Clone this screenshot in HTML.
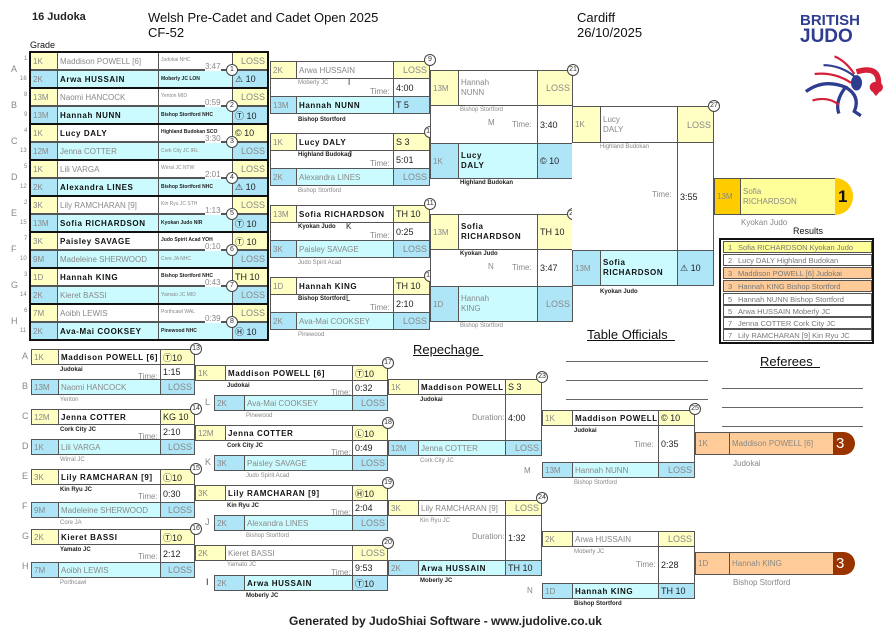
<!DOCTYPE html>
<html><head><meta charset="utf-8"><style>
body{margin:0;width:891px;height:630px;background:#fff;position:relative;overflow:hidden;font-family:"Liberation Sans","DejaVu Sans",sans-serif}
div,span{position:absolute;box-sizing:border-box;white-space:nowrap}
.c{border:1px solid #555;font-size:8px;color:#888;padding:0 2px;display:flex;align-items:center;overflow:hidden}
.y{background:#ffffc4}.b{background:#aee6f7}.q{background:#ccfbff}.w{background:#fff}
.k{color:#111;font-weight:bold;letter-spacing:.6px}
.r{justify-content:flex-end;font-size:9px}
.s{color:#222;font-size:9px}
.t{font-size:8px;color:#888}
.tk{font-size:6px;color:#222;font-weight:bold}
.tn{font-size:4.5px;color:#888}
.m{border:2px solid #111}
.n{width:12px;height:12px;border:1px solid #444;border-radius:50%;background:#fff;font-size:7px;color:#333;text-align:center;line-height:10px}
.L{font-size:9px;color:#888}
.line{height:1px;background:#666}
</style></head><body>
<!-- header -->
<div style="left:32px;top:11px;font-size:11px;font-weight:bold;color:#222">16 Judoka</div>
<div style="left:148px;top:10px;font-size:13px;color:#111">Welsh Pre-Cadet and Cadet Open 2025</div>
<div style="left:148px;top:25px;font-size:13px;color:#111">CF-52</div>
<div style="left:577px;top:10px;font-size:13px;color:#111">Cardiff</div>
<div style="left:577px;top:25px;font-size:13px;color:#111">26/10/2025</div>
<div style="left:30px;top:40px;font-size:9px;color:#111">Grade</div>
<div style="left:800px;top:12px;font-size:15px;font-weight:bold;color:#2e3d8f">BRITISH</div>
<div style="left:800px;top:26px;font-size:19px;font-weight:bold;color:#2e3d8f">JUDO</div>
<svg style="position:absolute;left:788px;top:52px" width="100" height="70" viewBox="0 0 95 70">
<g transform="scale(1.1)">
<path d="M40 4 Q50 8 58 20" stroke="#d6203a" stroke-width="2" fill="none"/>
<path d="M30 12 Q45 12 58 22" stroke="#2e3d8f" stroke-width="2" fill="none"/>
<path d="M22 20 Q40 18 55 28" stroke="#d6203a" stroke-width="2" fill="none"/>
<path d="M60 18 Q80 12 80 28 Q80 35 76 38" stroke="#d6203a" stroke-width="5" fill="none"/>
<ellipse cx="78" cy="32" rx="6" ry="5" fill="#d6203a"/>
<ellipse cx="60" cy="28" rx="5" ry="7" fill="#2e3d8f"/>
<path d="M14 36 Q30 24 50 32 Q40 45 44 56 M50 32 Q64 40 58 54 L64 58" stroke="#2e3d8f" stroke-width="3" fill="none"/>
<path d="M20 44 Q34 40 44 48" stroke="#d6203a" stroke-width="2" fill="none"/>
</g>
</svg>

<!-- ROUND 1 -->
<div class="L" style="left:11px;top:64px">A</div><div class="L" style="left:11px;top:100px">B</div><div class="L" style="left:11px;top:136px">C</div><div class="L" style="left:11px;top:172px">D</div><div class="L" style="left:11px;top:208px">E</div><div class="L" style="left:11px;top:244px">F</div><div class="L" style="left:11px;top:280px">G</div><div class="L" style="left:11px;top:316px">H</div>
<div class="tn" style="left:24px;top:56px;font-size:6px">1</div><div class="tn" style="left:20px;top:76px;font-size:6px">16</div>
<div class="tn" style="left:24px;top:92px;font-size:6px">8</div><div class="tn" style="left:24px;top:112px;font-size:6px">9</div>
<div class="tn" style="left:24px;top:128px;font-size:6px">4</div><div class="tn" style="left:20px;top:148px;font-size:6px">13</div>
<div class="tn" style="left:24px;top:164px;font-size:6px">5</div><div class="tn" style="left:20px;top:184px;font-size:6px">12</div>
<div class="tn" style="left:24px;top:200px;font-size:6px">2</div><div class="tn" style="left:20px;top:220px;font-size:6px">15</div>
<div class="tn" style="left:24px;top:236px;font-size:6px">7</div><div class="tn" style="left:20px;top:256px;font-size:6px">10</div>
<div class="tn" style="left:24px;top:272px;font-size:6px">3</div><div class="tn" style="left:20px;top:292px;font-size:6px">14</div>
<div class="tn" style="left:24px;top:308px;font-size:6px">6</div><div class="tn" style="left:20px;top:328px;font-size:6px">11</div>

<!-- A -->
<div class="c y" style="left:30px;top:52px;width:28px;height:18px">1K</div><div class="c w" style="left:57px;top:52px;width:102px;height:18px">Maddison POWELL [6]</div><div class="c w" style="left:158px;top:52px;width:75px;height:18px;font-size:5px;align-items:flex-start;padding-top:4px">Judokai NHC</div><div class="c y r" style="left:232px;top:52px;width:36px;height:18px">LOSS</div>
<div class="c b" style="left:30px;top:70px;width:28px;height:18px">2K</div><div class="c q k" style="left:57px;top:70px;width:102px;height:18px">Arwa HUSSAIN</div><div class="c q tk" style="left:158px;top:70px;width:75px;height:18px;font-size:5px">Moberly JC LON</div><div class="c b s" style="left:232px;top:70px;width:36px;height:18px">⚠ 10</div>
<!-- B -->
<div class="c y" style="left:30px;top:88px;width:28px;height:18px">13M</div><div class="c w" style="left:57px;top:88px;width:102px;height:18px">Naomi HANCOCK</div><div class="c w" style="left:158px;top:88px;width:75px;height:18px;font-size:5px;align-items:flex-start;padding-top:4px">Yenton MID</div><div class="c y r" style="left:232px;top:88px;width:36px;height:18px">LOSS</div>
<div class="c b" style="left:30px;top:106px;width:28px;height:18px">13M</div><div class="c q k" style="left:57px;top:106px;width:102px;height:18px">Hannah NUNN</div><div class="c q tk" style="left:158px;top:106px;width:75px;height:18px;font-size:5px">Bishop Stortford NHC</div><div class="c b s" style="left:232px;top:106px;width:36px;height:18px">Ⓣ 10</div>
<!-- C -->
<div class="c y" style="left:30px;top:124px;width:28px;height:18px">1K</div><div class="c w k" style="left:57px;top:124px;width:102px;height:18px">Lucy DALY</div><div class="c w tk" style="left:158px;top:124px;width:75px;height:18px;font-size:5px;align-items:flex-start;padding-top:4px">Highland Budokan SCO</div><div class="c y s" style="left:232px;top:124px;width:36px;height:18px">© 10</div>
<div class="c b" style="left:30px;top:142px;width:28px;height:18px">12M</div><div class="c q" style="left:57px;top:142px;width:102px;height:18px">Jenna COTTER</div><div class="c q" style="left:158px;top:142px;width:75px;height:18px;font-size:5px">Cork City JC IRL</div><div class="c b r" style="left:232px;top:142px;width:36px;height:18px">LOSS</div>
<!-- D -->
<div class="c y" style="left:30px;top:160px;width:28px;height:18px">1K</div><div class="c w" style="left:57px;top:160px;width:102px;height:18px">Lili VARGA</div><div class="c w" style="left:158px;top:160px;width:75px;height:18px;font-size:5px;align-items:flex-start;padding-top:4px">Wirral JC NTW</div><div class="c y r" style="left:232px;top:160px;width:36px;height:18px">LOSS</div>
<div class="c b" style="left:30px;top:178px;width:28px;height:18px">2K</div><div class="c q k" style="left:57px;top:178px;width:102px;height:18px">Alexandra LINES</div><div class="c q tk" style="left:158px;top:178px;width:75px;height:18px;font-size:5px">Bishop Stortford NHC</div><div class="c b s" style="left:232px;top:178px;width:36px;height:18px">⚠ 10</div>
<!-- E -->
<div class="c y" style="left:30px;top:196px;width:28px;height:18px">3K</div><div class="c w" style="left:57px;top:196px;width:102px;height:18px">Lily RAMCHARAN [9]</div><div class="c w" style="left:158px;top:196px;width:75px;height:18px;font-size:5px;align-items:flex-start;padding-top:4px">Kin Ryu JC STH</div><div class="c y r" style="left:232px;top:196px;width:36px;height:18px">LOSS</div>
<div class="c b" style="left:30px;top:214px;width:28px;height:18px">13M</div><div class="c q k" style="left:57px;top:214px;width:102px;height:18px">Sofia RICHARDSON</div><div class="c q tk" style="left:158px;top:214px;width:75px;height:18px;font-size:5px">Kyokan Judo NIR</div><div class="c b s" style="left:232px;top:214px;width:36px;height:18px">Ⓣ 10</div>
<!-- F -->
<div class="c y" style="left:30px;top:232px;width:28px;height:18px">3K</div><div class="c w k" style="left:57px;top:232px;width:102px;height:18px">Paisley SAVAGE</div><div class="c w tk" style="left:158px;top:232px;width:75px;height:18px;font-size:5px;align-items:flex-start;padding-top:4px">Judo Spirit Acad YOH</div><div class="c y s" style="left:232px;top:232px;width:36px;height:18px">Ⓣ 10</div>
<div class="c b" style="left:30px;top:250px;width:28px;height:18px">9M</div><div class="c q" style="left:57px;top:250px;width:102px;height:18px">Madeleine SHERWOOD</div><div class="c q" style="left:158px;top:250px;width:75px;height:18px;font-size:5px">Core JA NHC</div><div class="c b r" style="left:232px;top:250px;width:36px;height:18px">LOSS</div>
<!-- G -->
<div class="c y" style="left:30px;top:268px;width:28px;height:18px">1D</div><div class="c w k" style="left:57px;top:268px;width:102px;height:18px">Hannah KING</div><div class="c w tk" style="left:158px;top:268px;width:75px;height:18px;font-size:5px;align-items:flex-start;padding-top:4px">Bishop Stortford NHC</div><div class="c y s" style="left:232px;top:268px;width:36px;height:18px">TH 10</div>
<div class="c b" style="left:30px;top:286px;width:28px;height:18px">2K</div><div class="c q" style="left:57px;top:286px;width:102px;height:18px">Kieret BASSI</div><div class="c q" style="left:158px;top:286px;width:75px;height:18px;font-size:5px">Yamato JC MID</div><div class="c b r" style="left:232px;top:286px;width:36px;height:18px">LOSS</div>
<!-- H -->
<div class="c y" style="left:30px;top:304px;width:28px;height:18px">7M</div><div class="c w" style="left:57px;top:304px;width:102px;height:18px">Aoibh LEWIS</div><div class="c w" style="left:158px;top:304px;width:75px;height:18px;font-size:5px;align-items:flex-start;padding-top:4px">Porthcawl WAL</div><div class="c y r" style="left:232px;top:304px;width:36px;height:18px">LOSS</div>
<div class="c b" style="left:30px;top:322px;width:28px;height:18px">2K</div><div class="c q k" style="left:57px;top:322px;width:102px;height:18px">Ava-Mai COOKSEY</div><div class="c q tk" style="left:158px;top:322px;width:75px;height:18px;font-size:5px">Pinewood NHC</div><div class="c b s" style="left:232px;top:322px;width:36px;height:18px">Ⓗ 10</div>
<!-- thick match borders -->
<div class="m" style="left:29px;top:51px;width:240px;height:38px"></div><div class="m" style="left:29px;top:87px;width:240px;height:38px"></div><div class="m" style="left:29px;top:123px;width:240px;height:38px"></div><div class="m" style="left:29px;top:159px;width:240px;height:38px"></div><div class="m" style="left:29px;top:195px;width:240px;height:38px"></div><div class="m" style="left:29px;top:231px;width:240px;height:38px"></div><div class="m" style="left:29px;top:267px;width:240px;height:38px"></div><div class="m" style="left:29px;top:303px;width:240px;height:38px"></div>
<!-- times & numbers -->
<div class="t" style="left:205px;top:62px;background:#fff">3:47</div><div class="n" style="left:226px;top:64px">1</div>
<div class="t" style="left:205px;top:98px;background:#fff">0:59</div><div class="n" style="left:226px;top:100px">2</div>
<div class="t" style="left:205px;top:134px;background:#fff">3:30</div><div class="n" style="left:226px;top:136px">3</div>
<div class="t" style="left:205px;top:170px;background:#fff">2:01</div><div class="n" style="left:226px;top:172px">4</div>
<div class="t" style="left:205px;top:206px;background:#fff">1:13</div><div class="n" style="left:226px;top:208px">5</div>
<div class="t" style="left:205px;top:242px;background:#fff">0:10</div><div class="n" style="left:226px;top:244px">6</div>
<div class="t" style="left:205px;top:278px;background:#fff">0:43</div><div class="n" style="left:226px;top:280px">7</div>
<div class="t" style="left:205px;top:314px;background:#fff">0:39</div><div class="n" style="left:226px;top:316px">8</div>

<!-- ROUND 2 -->
<!-- 9 -->
<div class="c y" style="left:270px;top:61px;width:27px;height:18px">2K</div><div class="c w" style="left:296px;top:61px;width:98px;height:18px">Arwa HUSSAIN</div><div class="c y r" style="left:393px;top:61px;width:37px;height:18px">LOSS</div>
<div class="c w" style="left:270px;top:78px;width:124px;height:19px;border-right:none"></div><div class="t" style="left:298px;top:80px;font-size:6px">Moberly JC</div><div class="t" style="left:348px;top:78px;color:#222">I</div><div class="t" style="left:370px;top:87px">Time:</div><div class="c w s" style="left:393px;top:78px;width:37px;height:19px">4:00</div>
<div class="c b" style="left:270px;top:96px;width:27px;height:18px">13M</div><div class="c q k" style="left:296px;top:96px;width:98px;height:18px">Hannah NUNN</div><div class="c b s" style="left:393px;top:96px;width:37px;height:18px">T 5</div>
<div class="tk" style="left:298px;top:117px">Bishop Stortford</div><div class="n" style="left:424px;top:54px">9</div>
<!-- 10 -->
<div class="c y" style="left:270px;top:133px;width:27px;height:18px">1K</div><div class="c w k" style="left:296px;top:133px;width:98px;height:18px">Lucy DALY</div><div class="c y s" style="left:393px;top:133px;width:37px;height:18px">S 3</div>
<div class="c w" style="left:270px;top:150px;width:124px;height:19px;border-right:none"></div><div class="tk" style="left:298px;top:152px">Highland Budokan</div><div class="t" style="left:348px;top:150px;color:#222">J</div><div class="t" style="left:370px;top:159px">Time:</div><div class="c w s" style="left:393px;top:150px;width:37px;height:19px">5:01</div>
<div class="c b" style="left:270px;top:168px;width:27px;height:18px">2K</div><div class="c q" style="left:296px;top:168px;width:98px;height:18px">Alexandra LINES</div><div class="c b r" style="left:393px;top:168px;width:37px;height:18px">LOSS</div>
<div class="t" style="left:298px;top:188px;font-size:6px">Bishop Stortford</div><div class="n" style="left:424px;top:126px">10</div>
<!-- 11 -->
<div class="c y" style="left:270px;top:205px;width:27px;height:18px">13M</div><div class="c w k" style="left:296px;top:205px;width:98px;height:18px">Sofia RICHARDSON</div><div class="c y s" style="left:393px;top:205px;width:37px;height:18px">TH 10</div>
<div class="c w" style="left:270px;top:222px;width:124px;height:19px;border-right:none"></div><div class="tk" style="left:298px;top:224px">Kyokan Judo</div><div class="t" style="left:346px;top:222px;color:#222">K</div><div class="t" style="left:370px;top:231px">Time:</div><div class="c w s" style="left:393px;top:222px;width:37px;height:19px">0:25</div>
<div class="c b" style="left:270px;top:240px;width:27px;height:18px">3K</div><div class="c q" style="left:296px;top:240px;width:98px;height:18px">Paisley SAVAGE</div><div class="c b r" style="left:393px;top:240px;width:37px;height:18px">LOSS</div>
<div class="t" style="left:298px;top:260px;font-size:6px">Judo Spirit Acad</div><div class="n" style="left:424px;top:198px">11</div>
<!-- 12 -->
<div class="c y" style="left:270px;top:277px;width:27px;height:18px">1D</div><div class="c w k" style="left:296px;top:277px;width:98px;height:18px">Hannah KING</div><div class="c y s" style="left:393px;top:277px;width:37px;height:18px">TH 10</div>
<div class="c w" style="left:270px;top:294px;width:124px;height:19px;border-right:none"></div><div class="tk" style="left:298px;top:296px">Bishop Stortford</div><div class="t" style="left:346px;top:294px;color:#222">L</div><div class="t" style="left:370px;top:303px">Time:</div><div class="c w s" style="left:393px;top:294px;width:37px;height:19px">2:10</div>
<div class="c b" style="left:270px;top:312px;width:27px;height:18px">2K</div><div class="c q" style="left:296px;top:312px;width:98px;height:18px">Ava-Mai COOKSEY</div><div class="c b r" style="left:393px;top:312px;width:37px;height:18px">LOSS</div>
<div class="t" style="left:298px;top:332px;font-size:6px">Pinewood</div><div class="n" style="left:424px;top:270px">12</div>

<!-- ROUND 3 -->
<div class="c y" style="left:430px;top:70px;width:29px;height:36px">13M</div><div class="c w" style="left:458px;top:70px;width:80px;height:36px;white-space:normal;line-height:10px">Hannah<br>NUNN</div><div class="c y r" style="left:537px;top:70px;width:36px;height:36px">LOSS</div>
<div class="c w" style="left:430px;top:105px;width:108px;height:39px;border-right:none"></div><div class="t" style="left:460px;top:107px;font-size:6px">Bishop Stortford</div><div class="t" style="left:488px;top:118px">M</div><div class="t" style="left:512px;top:120px">Time:</div><div class="c w s" style="left:537px;top:105px;width:36px;height:39px">3:40</div>
<div class="c b" style="left:430px;top:143px;width:29px;height:36px">1K</div><div class="c q k" style="left:458px;top:143px;width:80px;height:36px;white-space:normal;line-height:10px">Lucy<br>DALY</div><div class="c b s" style="left:537px;top:143px;width:36px;height:36px">© 10</div>
<div class="tk" style="left:460px;top:180px">Highland Budokan</div><div class="n" style="left:567px;top:64px">21</div>

<div class="c y" style="left:430px;top:214px;width:29px;height:36px">13M</div><div class="c w k" style="left:458px;top:214px;width:80px;height:36px;white-space:normal;line-height:10px">Sofia<br>RICHARDSON</div><div class="c y s" style="left:537px;top:214px;width:36px;height:36px">TH 10</div>
<div class="c w" style="left:430px;top:249px;width:108px;height:38px;border-right:none"></div><div class="tk" style="left:460px;top:251px">Kyokan Judo</div><div class="t" style="left:488px;top:262px">N</div><div class="t" style="left:512px;top:263px">Time:</div><div class="c w s" style="left:537px;top:249px;width:36px;height:38px">3:47</div>
<div class="c b" style="left:430px;top:286px;width:29px;height:36px">1D</div><div class="c q" style="left:458px;top:286px;width:80px;height:36px;white-space:normal;line-height:10px">Hannah<br>KING</div><div class="c b r" style="left:537px;top:286px;width:36px;height:36px">LOSS</div>
<div class="t" style="left:460px;top:323px;font-size:6px">Bishop Stortford</div><div class="n" style="left:567px;top:208px">22</div>

<!-- FINAL -->
<div class="c y" style="left:572px;top:106px;width:29px;height:37px">1K</div><div class="c w" style="left:600px;top:106px;width:78px;height:37px;white-space:normal;line-height:10px">Lucy<br>DALY</div><div class="c y r" style="left:677px;top:106px;width:37px;height:37px">LOSS</div>
<div class="c w" style="left:572px;top:142px;width:106px;height:109px;border-right:none;border-left:none"></div><div class="t" style="left:600px;top:144px;font-size:6px">Highland Budokan</div><div class="t" style="left:652px;top:190px">Time:</div><div class="c w s" style="left:677px;top:142px;width:37px;height:109px">3:55</div>
<div class="c b" style="left:572px;top:250px;width:29px;height:36px">13M</div><div class="c q k" style="left:600px;top:250px;width:78px;height:36px;white-space:normal;line-height:10px">Sofia<br>RICHARDSON</div><div class="c b s" style="left:677px;top:250px;width:37px;height:36px">⚠ 10</div>
<div class="tk" style="left:600px;top:289px">Kyokan Judo</div><div class="n" style="left:708px;top:100px">27</div>
<div class="c" style="left:714px;top:178px;width:27px;height:37px;background:#ffcc00">13M</div><div class="c" style="left:740px;top:178px;width:96px;height:37px;background:#ffff99;white-space:normal;line-height:10px">Sofia<br>RICHARDSON</div>
<div style="left:835px;top:178px;width:18px;height:37px;background:#ffcc00;border-radius:0 18px 18px 0;font-size:17px;font-weight:bold;line-height:37px;padding-left:3px;color:#111">1</div>
<div class="t" style="left:741px;top:218px">Kyokan Judo</div>

<!-- Results -->
<div style="left:793px;top:226px;font-size:9px;color:#111">Results</div>
<div style="left:719px;top:238px;width:155px;height:106px;border:2px solid #111;font-size:7.5px;color:#777">
<div style="left:2px;top:1px;width:149px;height:12px;background:#ffff99;border:1px solid #555"><span style="left:4px;top:1px">1</span><span style="left:14px;top:1px">Sofia RICHARDSON Kyokan Judo</span></div>
<div style="left:2px;top:14px;width:149px;height:12px;border:1px solid #555"><span style="left:4px;top:1px">2</span><span style="left:14px;top:1px">Lucy DALY Highland Budokan</span></div>
<div style="left:2px;top:27px;width:149px;height:12px;background:#ffcc99;border:1px solid #555"><span style="left:4px;top:1px">3</span><span style="left:14px;top:1px">Maddison POWELL [6] Judokai</span></div>
<div style="left:2px;top:40px;width:149px;height:12px;background:#ffcc99;border:1px solid #555"><span style="left:4px;top:1px">3</span><span style="left:14px;top:1px">Hannah KING Bishop Stortford</span></div>
<div style="left:2px;top:53px;width:149px;height:12px;border:1px solid #555"><span style="left:4px;top:1px">5</span><span style="left:14px;top:1px">Hannah NUNN Bishop Stortford</span></div>
<div style="left:2px;top:65px;width:149px;height:12px;border:1px solid #555"><span style="left:4px;top:1px">5</span><span style="left:14px;top:1px">Arwa HUSSAIN Moberly JC</span></div>
<div style="left:2px;top:77px;width:149px;height:12px;border:1px solid #555"><span style="left:4px;top:1px">7</span><span style="left:14px;top:1px">Jenna COTTER Cork City JC</span></div>
<div style="left:2px;top:89px;width:149px;height:12px;border:1px solid #555"><span style="left:4px;top:1px">7</span><span style="left:14px;top:1px">Lily RAMCHARAN [9] Kin Ryu JC</span></div>
</div>

<!-- officials -->
<div style="left:587px;top:327px;font-size:13px;color:#111;text-decoration:underline">Table Officials&nbsp;&nbsp;</div>
<div class="line" style="left:566px;top:361px;width:142px"></div><div class="line" style="left:566px;top:380px;width:142px"></div><div class="line" style="left:566px;top:399px;width:142px"></div>
<div style="left:760px;top:354px;font-size:13px;color:#111;text-decoration:underline">Referees&nbsp;&nbsp;</div>
<div class="line" style="left:722px;top:388px;width:141px"></div><div class="line" style="left:722px;top:407px;width:141px"></div><div class="line" style="left:722px;top:426px;width:141px"></div>
<div style="left:413px;top:342px;font-size:13px;color:#111;text-decoration:underline">Repechage&nbsp;</div>

<!-- REPECHAGE R1 -->
<div class="L" style="left:22px;top:351px">A</div><div class="L" style="left:22px;top:381px">B</div><div class="L" style="left:22px;top:411px">C</div><div class="L" style="left:22px;top:441px">D</div><div class="L" style="left:22px;top:471px">E</div><div class="L" style="left:22px;top:501px">F</div><div class="L" style="left:22px;top:531px">G</div><div class="L" style="left:22px;top:561px">H</div>
<!-- 13 -->
<div class="c y" style="left:31px;top:349px;width:28px;height:16px">1K</div><div class="c w k" style="left:58px;top:349px;width:103px;height:16px">Maddison POWELL [6]</div><div class="c y s" style="left:160px;top:349px;width:35px;height:16px">Ⓣ10</div>
<div class="tk" style="left:60px;top:367px">Judokai</div><div class="t" style="left:138px;top:372px">Time:</div><div class="c w s" style="left:160px;top:364px;width:35px;height:16px">1:15</div>
<div class="c b" style="left:31px;top:379px;width:28px;height:16px">13M</div><div class="c q" style="left:58px;top:379px;width:103px;height:16px">Naomi HANCOCK</div><div class="c b r" style="left:160px;top:379px;width:35px;height:16px">LOSS</div>
<div class="t" style="left:60px;top:397px;font-size:6px">Yenton</div><div class="n" style="left:190px;top:343px">13</div>
<!-- 14 -->
<div class="c y" style="left:31px;top:409px;width:28px;height:16px">12M</div><div class="c w k" style="left:58px;top:409px;width:103px;height:16px">Jenna COTTER</div><div class="c y s" style="left:160px;top:409px;width:35px;height:16px">KG 10</div>
<div class="tk" style="left:60px;top:427px">Cork City JC</div><div class="t" style="left:138px;top:432px">Time:</div><div class="c w s" style="left:160px;top:424px;width:35px;height:16px">2:10</div>
<div class="c b" style="left:31px;top:439px;width:28px;height:16px">1K</div><div class="c q" style="left:58px;top:439px;width:103px;height:16px">Lili VARGA</div><div class="c b r" style="left:160px;top:439px;width:35px;height:16px">LOSS</div>
<div class="t" style="left:60px;top:457px;font-size:6px">Wirral JC</div><div class="n" style="left:190px;top:403px">14</div>
<!-- 15 -->
<div class="c y" style="left:31px;top:469px;width:28px;height:16px">3K</div><div class="c w k" style="left:58px;top:469px;width:103px;height:16px">Lily RAMCHARAN [9]</div><div class="c y s" style="left:160px;top:469px;width:35px;height:16px">Ⓛ10</div>
<div class="tk" style="left:60px;top:487px">Kin Ryu JC</div><div class="t" style="left:138px;top:492px">Time:</div><div class="c w s" style="left:160px;top:484px;width:35px;height:19px">0:30</div>
<div class="c b" style="left:31px;top:502px;width:28px;height:16px">9M</div><div class="c q" style="left:58px;top:502px;width:103px;height:16px">Madeleine SHERWOOD</div><div class="c b r" style="left:160px;top:502px;width:35px;height:16px">LOSS</div>
<div class="t" style="left:60px;top:520px;font-size:6px">Core JA</div><div class="n" style="left:190px;top:463px">15</div>
<!-- 16 -->
<div class="c y" style="left:31px;top:529px;width:28px;height:16px">2K</div><div class="c w k" style="left:58px;top:529px;width:103px;height:16px">Kieret BASSI</div><div class="c y s" style="left:160px;top:529px;width:35px;height:16px">Ⓣ10</div>
<div class="tk" style="left:60px;top:547px">Yamato JC</div><div class="t" style="left:138px;top:552px">Time:</div><div class="c w s" style="left:160px;top:544px;width:35px;height:19px">2:12</div>
<div class="c b" style="left:31px;top:562px;width:28px;height:16px">7M</div><div class="c q" style="left:58px;top:562px;width:103px;height:16px">Aoibh LEWIS</div><div class="c b r" style="left:160px;top:562px;width:35px;height:16px">LOSS</div>
<div class="t" style="left:60px;top:580px;font-size:6px">Porthcawl</div><div class="n" style="left:190px;top:523px">16</div>

<!-- REPECHAGE R2 -->
<!-- 17 -->
<div class="c y" style="left:195px;top:365px;width:31px;height:16px">1K</div><div class="c w k" style="left:225px;top:365px;width:128px;height:16px">Maddison POWELL [6]</div><div class="c y s" style="left:352px;top:365px;width:36px;height:16px">Ⓣ10</div>
<div class="tk" style="left:227px;top:383px">Judokai</div><div class="t" style="left:331px;top:388px">Time:</div><div class="c w s" style="left:352px;top:380px;width:36px;height:16px">0:32</div>
<div class="L" style="left:205px;top:397px">L</div><div class="c b" style="left:214px;top:395px;width:31px;height:16px">2K</div><div class="c q" style="left:244px;top:395px;width:109px;height:16px">Ava-Mai COOKSEY</div><div class="c b r" style="left:352px;top:395px;width:36px;height:16px">LOSS</div>
<div class="t" style="left:246px;top:413px;font-size:6px">Pinewood</div><div class="n" style="left:382px;top:357px">17</div>
<!-- 18 -->
<div class="c y" style="left:195px;top:425px;width:31px;height:16px">12M</div><div class="c w k" style="left:225px;top:425px;width:128px;height:16px">Jenna COTTER</div><div class="c y s" style="left:352px;top:425px;width:36px;height:16px">Ⓛ10</div>
<div class="tk" style="left:227px;top:443px">Cork City JC</div><div class="t" style="left:331px;top:448px">Time:</div><div class="c w s" style="left:352px;top:440px;width:36px;height:16px">0:49</div>
<div class="L" style="left:205px;top:457px">K</div><div class="c b" style="left:214px;top:455px;width:31px;height:16px">3K</div><div class="c q" style="left:244px;top:455px;width:109px;height:16px">Paisley SAVAGE</div><div class="c b r" style="left:352px;top:455px;width:36px;height:16px">LOSS</div>
<div class="t" style="left:246px;top:473px;font-size:6px">Judo Spirit Acad</div><div class="n" style="left:382px;top:417px">18</div>
<!-- 19 -->
<div class="c y" style="left:195px;top:485px;width:31px;height:16px">3K</div><div class="c w k" style="left:225px;top:485px;width:128px;height:16px">Lily RAMCHARAN [9]</div><div class="c y s" style="left:352px;top:485px;width:36px;height:16px">Ⓗ10</div>
<div class="tk" style="left:227px;top:503px">Kin Ryu JC</div><div class="t" style="left:331px;top:508px">Time:</div><div class="c w s" style="left:352px;top:500px;width:36px;height:16px">2:04</div>
<div class="L" style="left:205px;top:517px">J</div><div class="c b" style="left:214px;top:515px;width:31px;height:16px">2K</div><div class="c q" style="left:244px;top:515px;width:109px;height:16px">Alexandra LINES</div><div class="c b r" style="left:352px;top:515px;width:36px;height:16px">LOSS</div>
<div class="t" style="left:246px;top:533px;font-size:6px">Bishop Stortford</div><div class="n" style="left:382px;top:477px">19</div>
<!-- 20 -->
<div class="c y" style="left:195px;top:545px;width:31px;height:16px">2K</div><div class="c w" style="left:225px;top:545px;width:128px;height:16px">Kieret BASSI</div><div class="c y r" style="left:352px;top:545px;width:36px;height:16px">LOSS</div>
<div class="t" style="left:227px;top:562px;font-size:6px">Yamato JC</div><div class="t" style="left:331px;top:568px">Time:</div><div class="c w s" style="left:352px;top:560px;width:36px;height:16px">9:53</div>
<div class="L" style="left:206px;top:577px;color:#222">I</div><div class="c b" style="left:214px;top:575px;width:31px;height:16px">2K</div><div class="c q k" style="left:244px;top:575px;width:109px;height:16px">Arwa HUSSAIN</div><div class="c b s" style="left:352px;top:575px;width:36px;height:16px">Ⓣ10</div>
<div class="tk" style="left:246px;top:593px">Moberly JC</div><div class="n" style="left:382px;top:537px">20</div>

<!-- REPECHAGE R3 -->
<div class="c y" style="left:388px;top:379px;width:31px;height:16px">1K</div><div class="c w k" style="left:418px;top:379px;width:88px;height:16px">Maddison POWELL [6]</div><div class="c y s" style="left:505px;top:379px;width:37px;height:16px">S 3</div>
<div class="tk" style="left:420px;top:397px">Judokai</div><div class="t" style="left:472px;top:413px">Duration:</div><div class="c w s" style="left:505px;top:394px;width:37px;height:47px">4:00</div>
<div class="c b" style="left:388px;top:440px;width:31px;height:16px">12M</div><div class="c q" style="left:418px;top:440px;width:88px;height:16px">Jenna COTTER</div><div class="c b r" style="left:505px;top:440px;width:37px;height:16px">LOSS</div>
<div class="t" style="left:420px;top:458px;font-size:6px">Cork City JC</div><div class="n" style="left:536px;top:371px">23</div>

<div class="c y" style="left:388px;top:500px;width:31px;height:16px">3K</div><div class="c w" style="left:418px;top:500px;width:88px;height:16px">Lily RAMCHARAN [9]</div><div class="c y r" style="left:505px;top:500px;width:37px;height:16px">LOSS</div>
<div class="t" style="left:420px;top:518px;font-size:6px">Kin Ryu JC</div><div class="t" style="left:472px;top:532px">Duration:</div><div class="c w s" style="left:505px;top:515px;width:37px;height:46px">1:32</div>
<div class="c b" style="left:388px;top:560px;width:31px;height:16px">2K</div><div class="c q k" style="left:418px;top:560px;width:88px;height:16px">Arwa HUSSAIN</div><div class="c b s" style="left:505px;top:560px;width:37px;height:16px">TH 10</div>
<div class="tk" style="left:420px;top:578px">Moberly JC</div><div class="n" style="left:536px;top:492px">24</div>

<!-- BRONZE -->
<div class="c y" style="left:542px;top:410px;width:31px;height:16px">1K</div><div class="c w k" style="left:572px;top:410px;width:87px;height:16px">Maddison POWELL [6]</div><div class="c y s" style="left:658px;top:410px;width:37px;height:16px">© 10</div>
<div class="tk" style="left:574px;top:428px">Judokai</div><div class="t" style="left:634px;top:440px">Time:</div><div class="c w s" style="left:658px;top:425px;width:37px;height:38px">0:35</div>
<div class="t" style="left:524px;top:466px">M</div>
<div class="c b" style="left:542px;top:462px;width:31px;height:16px">13M</div><div class="c q" style="left:572px;top:462px;width:87px;height:16px">Hannah NUNN</div><div class="c b r" style="left:658px;top:462px;width:37px;height:16px">LOSS</div>
<div class="t" style="left:574px;top:480px;font-size:6px">Bishop Stortford</div><div class="n" style="left:689px;top:403px">25</div>

<div class="c y" style="left:542px;top:531px;width:31px;height:16px">2K</div><div class="c w" style="left:572px;top:531px;width:87px;height:16px">Arwa HUSSAIN</div><div class="c y r" style="left:658px;top:531px;width:37px;height:16px">LOSS</div>
<div class="t" style="left:574px;top:549px;font-size:6px">Moberly JC</div><div class="t" style="left:636px;top:560px">Time:</div><div class="c w s" style="left:658px;top:546px;width:37px;height:38px">2:28</div>
<div class="t" style="left:527px;top:586px">N</div>
<div class="c b" style="left:542px;top:583px;width:31px;height:16px">1D</div><div class="c q k" style="left:572px;top:583px;width:87px;height:16px">Hannah KING</div><div class="c b s" style="left:658px;top:583px;width:37px;height:16px">TH 10</div>
<div class="tk" style="left:574px;top:601px">Bishop Stortford</div>

<div class="c" style="left:695px;top:432px;width:35px;height:23px;background:#ffcc99">1K</div><div class="c" style="left:729px;top:432px;width:105px;height:23px;background:#ffcc99">Maddison POWELL [6]</div>
<div style="left:833px;top:432px;width:22px;height:23px;background:#993300;border-radius:0 12px 12px 0;color:#fff;font-size:15px;line-height:23px;padding-left:3px">3</div>
<div class="t" style="left:733px;top:459px">Judokai</div>
<div class="c" style="left:695px;top:552px;width:35px;height:23px;background:#ffcc99">1D</div><div class="c" style="left:729px;top:552px;width:105px;height:23px;background:#ffcc99">Hannah KING</div>
<div style="left:833px;top:552px;width:22px;height:23px;background:#993300;border-radius:0 12px 12px 0;color:#fff;font-size:15px;line-height:23px;padding-left:3px">3</div>
<div class="t" style="left:733px;top:578px">Bishop Stortford</div>

<div style="left:0;top:614px;width:891px;text-align:center;font-size:12px;font-weight:bold;color:#222">Generated by JudoShiai Software - www.judolive.co.uk</div>
</body></html>
